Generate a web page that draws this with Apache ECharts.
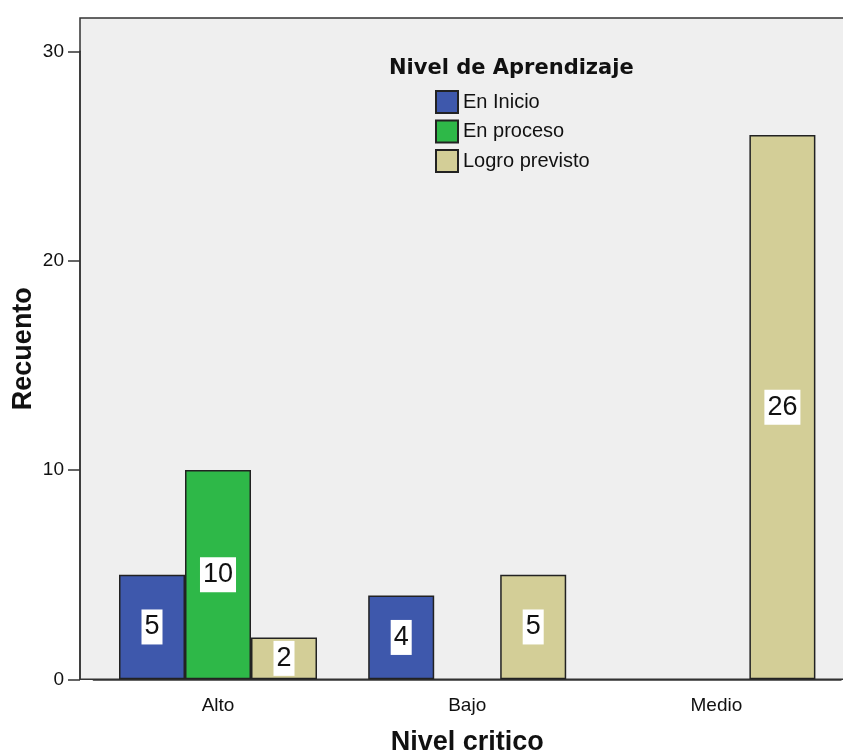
<!DOCTYPE html>
<html>
<head>
<meta charset="utf-8">
<script src="https://cdn.jsdelivr.net/npm/echarts@6/dist/echarts.min.js"></script>
<style>
html,body{margin:0;padding:0;background:#fff;}
#main{width:843px;height:756px;}
</style>
</head>
<body>
<div id="main"></div>
<script>
const categories = ['Alto', 'Bajo', 'Medio'];
const seriesNames = ['En Inicio', 'En proceso', 'Logro previsto'];
const enInicio = [5, 4, null];
const enProceso = [10, null, null];
const logroPrevisto = [2, 5, 26];
const yTicks = [0, 10, 20, 30];
const colors = ['#3e58ac', '#2eb848', '#d3ce97'];

const chart = echarts.init(document.getElementById('main'));

const labelStyle = {
  show: true,
  position: 'inside',
  color: '#111',
  backgroundColor: '#ffffff',
  fontFamily: "'Liberation Sans Narrow', 'Liberation Sans', Arial, sans-serif",
  fontSize: 27,
  padding: [4, 3]
};

function barSeries(name, data, color) {
  return {
    name: name,
    type: 'bar',
    xAxisIndex: 0,
    yAxisIndex: 0,
    data: data,
    barWidth: 66,
    barGap: '0%',
    itemStyle: { color: color, borderColor: '#222', borderWidth: 1.5 },
    label: labelStyle,
    emphasis: { disabled: true }
  };
}

chart.setOption({
  animation: false,
  backgroundColor: '#ffffff',
  textStyle: { fontFamily: "'Liberation Sans', Arial, sans-serif" },
  title: {
    text: 'Nivel de Aprendizaje',
    left: 389,
    top: 58,
    padding: 0,
    textStyle: { fontFamily: "'DejaVu Sans', sans-serif", fontWeight: 'bold', fontSize: 21, color: '#111' }
  },
  legend: {
    orient: 'vertical',
    left: 435,
    top: 90,
    padding: 0,
    itemWidth: 22,
    itemHeight: 22,
    itemGap: 5.5,
    icon: 'rect',
    selectedMode: false,
    data: seriesNames,
    textStyle: { fontSize: 20, color: '#111', fontFamily: "'Liberation Sans', Arial, sans-serif" }
  },
  grid: [
    { left: 93.4, right: 2, top: 51.3, bottom: 76.7, containLabel: false, outerBoundsMode: 'none' },
    { left: 80, right: -10, top: 18, bottom: 76.7, show: true, z: -1, outerBoundsMode: 'none',
      backgroundColor: '#efefef', borderColor: '#333', borderWidth: 1.5 }
  ],
  xAxis: [
    {
      type: 'category',
      gridIndex: 0,
      data: categories,
      axisLine: { lineStyle: { color: '#333', width: 1.5 } },
      axisTick: { alignWithLabel: true, length: 11, lineStyle: { color: '#333', width: 1.5 } },
      axisLabel: { fontSize: 19, color: '#111', margin: 17 },
      name: 'Nivel critico',
      nameLocation: 'middle',
      nameGap: 50,
      nameTextStyle: { fontSize: 27, fontWeight: 'bold', color: '#111' }
    },
    { type: 'value', gridIndex: 1, show: false, min: 0, max: 1 }
  ],
  yAxis: [
    {
      type: 'value',
      gridIndex: 0,
      min: yTicks[0],
      max: yTicks[yTicks.length - 1],
      interval: 10,
      offset: 13.4,
      axisLine: { show: true, lineStyle: { color: '#333', width: 1.5 } },
      axisTick: { show: true, length: 12, lineStyle: { color: '#333', width: 1.5 } },
      axisLabel: { fontSize: 19, color: '#111', margin: 16 },
      splitLine: { show: false }
    },
    {
      type: 'value',
      gridIndex: 1,
      min: 0,
      max: 1,
      axisLine: { show: false },
      axisTick: { show: false },
      axisLabel: { show: false },
      splitLine: { show: false },
      name: 'Recuento',
      nameLocation: 'middle',
      nameGap: 43,
      nameTextStyle: { fontSize: 27, fontWeight: 'bold', color: '#111' }
    }
  ],
  series: [
    barSeries(seriesNames[0], enInicio, colors[0]),
    barSeries(seriesNames[1], enProceso, colors[1]),
    barSeries(seriesNames[2], logroPrevisto, colors[2])
  ]
});
</script>
</body>
</html>
